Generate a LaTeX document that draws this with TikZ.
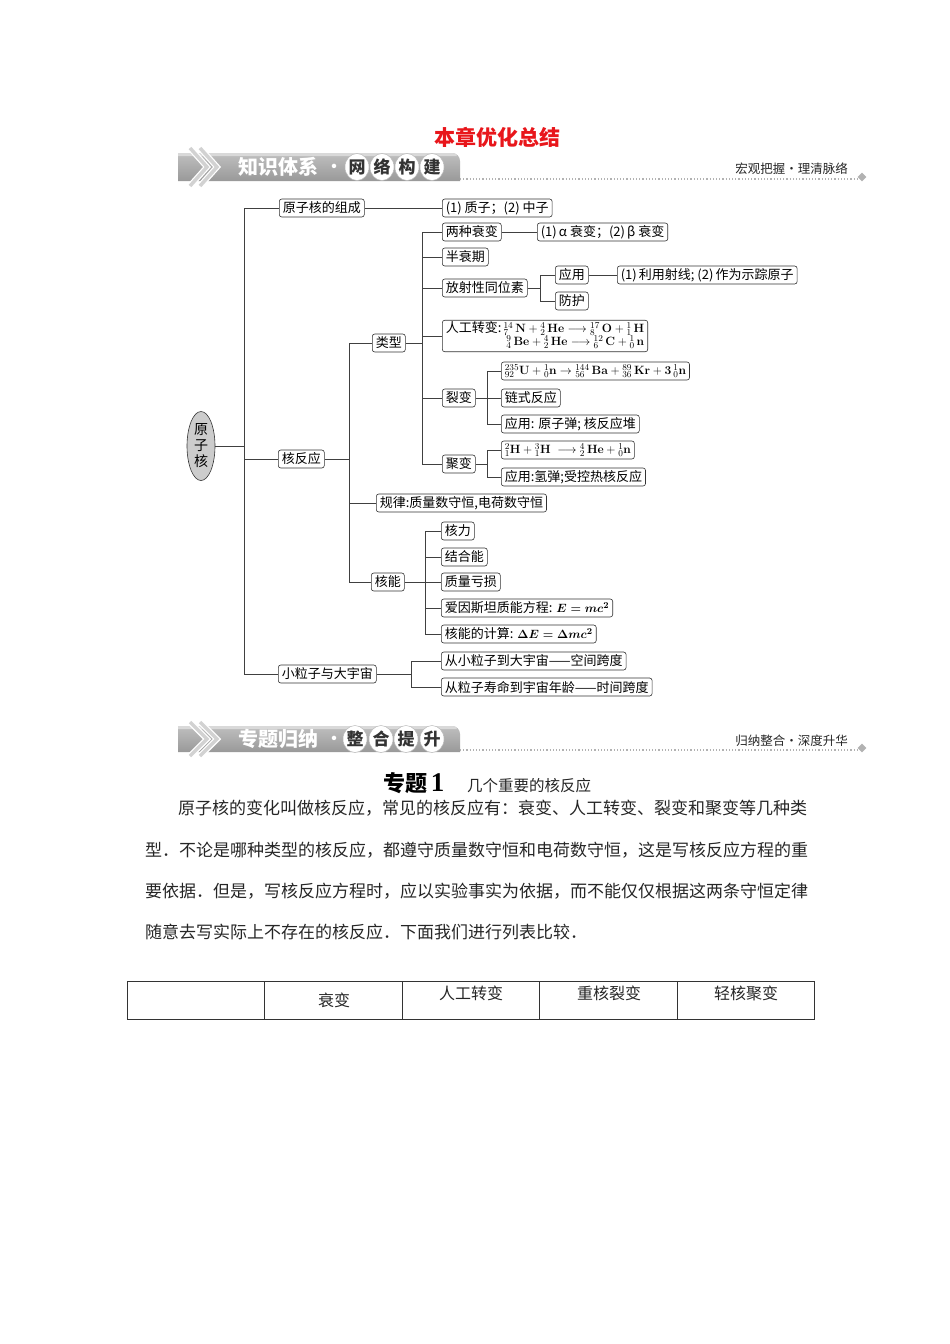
\documentclass[tikz,border=0pt]{standalone}
\usepackage[no-math]{fontspec}
\setmainfont{Noto Sans CJK SC}
\newfontfamily\serifnum{Liberation Serif}
\usetikzlibrary{shapes.geometric}
\definecolor{titlered}{HTML}{E8161B}
\newcommand{\nuc}[3]{{}^{#1}_{#2}\mathbf{#3}}
\begin{document}
\begin{tikzpicture}[x=1pt,y=-1pt,
  box/.style={draw=black!80, rounded corners=2.5pt, line width=0.6pt, inner xsep=3.5pt, inner ysep=2pt, minimum height=18pt, anchor=west, font=\fontsize{13}{15}\selectfont},
  link/.style={draw=black!75, line width=0.7pt},
  circchar/.style={ellipse, fill=white, draw=gray!55, line width=0.5pt, minimum width=23pt, minimum height=27pt, inner sep=0pt, text=black!80, font=\bfseries\fontsize{17}{17}\selectfont},
  bannertext/.style={anchor=west, text=white, inner sep=0pt, font=\bfseries\fontsize{20}{20}\selectfont},
  sidetext/.style={anchor=east, inner sep=0pt, text=black!85, font=\fontsize{12.5}{12.5}\selectfont},
  para/.style={anchor=west, inner sep=0pt, text=black!85, font=\fontsize{17}{17}\selectfont},
  cell/.style={inner sep=0pt, text=black!85, font=\fontsize{16}{16}\selectfont}]
\useasboundingbox (0,0) rectangle (950,1344);

% ---------- title ----------
\node[text=titlered, font=\bfseries\fontsize{21}{21}\selectfont] (title) at (497,137) {本章优化总结};

% ---------- banner 1 ----------
\shade[top color=gray!50, bottom color=gray!80] (178,153) -- (452,153) to[out=0,in=90] (460,161) -- (460,181) -- (178,181) -- cycle;
\fill[gray!30] (178,153) -- (452,153) to[out=0,in=90] (457,156) -- (178,156) -- cycle;
\foreach \dx in {0,10} {
  \draw[white, line width=6pt, line join=miter] (190+\dx,148) -- (207+\dx,167) -- (190+\dx,186);
  \draw[gray!35, line width=3.5pt, line join=miter] (190+\dx,148) -- (207+\dx,167) -- (190+\dx,186);
}
\node[bannertext] (b1t) at (238,167) {知识体系};
\node[text=white, font=\bfseries\fontsize{16}{16}\selectfont] (b1dot) at (334,168) {·};
\node[circchar] (b1c1) at (357,167) {网};
\node[circchar] (b1c2) at (382,167) {络};
\node[circchar] (b1c3) at (407,167) {构};
\node[circchar] (b1c4) at (432,167) {建};
\draw[gray!60, dotted, line width=1.2pt] (460,179) -- (857,179);
\node[diamond, fill=gray!60, minimum size=9pt, inner sep=0pt] (b1d) at (862,177) {};
\node[sidetext] (b1s) at (848,169) {宏观把握·理清脉络};

% ---------- tree ----------
\node[ellipse, draw=black!80, line width=0.6pt, fill=gray!40, minimum width=28pt, minimum height=69pt, inner sep=0pt, align=center, font=\fontsize{14}{16}\selectfont] (root) at (201,446) {原\\子\\核};

\node[box] (zc)  at (279,208) {原子核的组成};
\node[box] (zc1) at (442,208) {(1) 质子；(2) 中子};
\node[box] (hfy) at (278,459) {核反应};
\node[box] (xlz) at (278,674) {小粒子与大宇宙};

\node[box] (lx) at (372,343) {类型};
\node[box] (gl) at (376,503) {规律:质量数守恒,电荷数守恒};
\node[box] (hn) at (371,582) {核能};

\node[box] (lz)  at (442,232) {两种衰变};
\node[box] (lz1) at (537,232) {(1)\,α 衰变；(2)\,β 衰变};
\node[box] (bsq) at (442,257) {半衰期};
\node[box] (fs)  at (442,288) {放射性同位素};
\node[box] (yy)  at (555,275) {应用};
\node[box] (fh)  at (555,301) {防护};
\node[box] (yy1) at (617,275) {(1)\,利用射线; (2)\,作为示踪原子};
\node[box, inner ysep=1.5pt] (rg) at (442,336) {\begin{tabular}{@{}l@{\,}r@{}}人工转变: & $\nuc{14}{7}{\,N}+\nuc{4}{2}{\,He}\longrightarrow\nuc{17}{8}{\,O}+\nuc{1}{1}{\,H}$\\[-2pt]
 & $\nuc{9}{4}{\,Be}+\nuc{4}{2}{\,He}\longrightarrow\nuc{12}{6}{\,C}+\nuc{1}{0}{\,n}$\end{tabular}};
\node[box] (lb)  at (442,398) {裂变};
\node[box] (lb1) at (501,371) {$\nuc{235}{92}{U}+\nuc{1}{0}{n}\to\nuc{144}{56}{\,Ba}+\nuc{89}{36}{\,Kr}+\mathbf{3}\,\nuc{1}{0}{n}$};
\node[box] (lb2) at (501,398) {链式反应};
\node[box] (lb3) at (501,424) {应用: 原子弹; 核反应堆};
\node[box] (jb)  at (442,464) {聚变};
\node[box] (jb1) at (501,450) {$\nuc{2}{1}{H}+\nuc{3}{1}{H}\;\longrightarrow\nuc{4}{2}{\,He}+\nuc{1}{0}{n}$};
\node[box] (jb2) at (501,477) {应用:氢弹;受控热核反应};

\node[box] (hl)   at (441,531) {核力};
\node[box] (jhn)  at (441,557) {结合能};
\node[box] (zlks) at (441,582) {质量亏损};
\node[box] (ays)  at (441,608) {爱因斯坦质能方程: {\boldmath$E=mc^2$}};
\node[box] (hnjs) at (441,634) {核能的计算: {\boldmath$\Delta E=\Delta mc^2$}};
\node[box] (kj)   at (441,661) {从小粒子到大宇宙——空间跨度};
\node[box] (sj)   at (441,687) {从粒子寿命到宇宙年龄——时间跨度};

% spine x positions
\coordinate (s0) at (244,0);
\coordinate (s1) at (349,0);
\coordinate (s2) at (422,0);
\coordinate (s3) at (540,0);
\coordinate (s4) at (487,0);
\coordinate (s5) at (425,0);
\coordinate (s6) at (411,0);

% root level
\draw[link] (root.east) -- (root.east -| s0);
\draw[link] (zc.west -| s0) -- (xlz.west -| s0);
\foreach \c in {zc,hfy,xlz} \draw[link] (\c.west -| s0) -- (\c.west);
\draw[link] (zc.east) -- (zc1.west);

% 核反应
\draw[link] (hfy.east) -- (hfy.east -| s1);
\draw[link] (lx.west -| s1) -- (hn.west -| s1);
\foreach \c in {lx,gl,hn} \draw[link] (\c.west -| s1) -- (\c.west);

% 类型
\draw[link] (lx.east) -- (lx.east -| s2);
\draw[link] (lz.west -| s2) -- (jb.west -| s2);
\foreach \c in {lz,bsq,fs,rg,lb,jb} \draw[link] (\c.west -| s2) -- (\c.west);
\draw[link] (lz.east) -- (lz1.west);

% 放射性同位素
\draw[link] (fs.east) -- (fs.east -| s3);
\draw[link] (yy.west -| s3) -- (fh.west -| s3);
\foreach \c in {yy,fh} \draw[link] (\c.west -| s3) -- (\c.west);
\draw[link] (yy.east) -- (yy1.west);

% 裂变
\draw[link] (lb.east) -- (lb.east -| s4);
\draw[link] (lb1.west -| s4) -- (lb3.west -| s4);
\foreach \c in {lb1,lb2,lb3} \draw[link] (\c.west -| s4) -- (\c.west);

% 聚变
\draw[link] (jb.east) -- (jb.east -| s4);
\draw[link] (jb1.west -| s4) -- (jb2.west -| s4);
\foreach \c in {jb1,jb2} \draw[link] (\c.west -| s4) -- (\c.west);

% 核能
\draw[link] (hn.east) -- (hn.east -| s5);
\draw[link] (hl.west -| s5) -- (hnjs.west -| s5);
\foreach \c in {hl,jhn,zlks,ays,hnjs} \draw[link] (\c.west -| s5) -- (\c.west);

% 小粒子与大宇宙
\draw[link] (xlz.east) -- (xlz.east -| s6);
\draw[link] (kj.west -| s6) -- (sj.west -| s6);
\foreach \c in {kj,sj} \draw[link] (\c.west -| s6) -- (\c.west);

% ---------- banner 2 ----------
\shade[top color=gray!50, bottom color=gray!80] (178,726) -- (452,726) to[out=0,in=90] (460,734) -- (460,752) -- (178,752) -- cycle;
\fill[gray!30] (178,726) -- (452,726) to[out=0,in=90] (457,729) -- (178,729) -- cycle;
\foreach \dx in {0,10} {
  \draw[white, line width=6pt, line join=miter] (190+\dx,722) -- (207+\dx,739) -- (190+\dx,756);
  \draw[gray!35, line width=3.5pt, line join=miter] (190+\dx,722) -- (207+\dx,739) -- (190+\dx,756);
}
\node[bannertext] (b2t) at (238,739) {专题归纳};
\node[text=white, font=\bfseries\fontsize{16}{16}\selectfont] (b2dot) at (334,740) {·};
\node[circchar] (b2c1) at (355,739) {整};
\node[circchar] (b2c2) at (381,739) {合};
\node[circchar] (b2c3) at (406,739) {提};
\node[circchar] (b2c4) at (432,739) {升};
\draw[gray!60, dotted, line width=1.2pt] (460,750) -- (857,750);
\node[diamond, fill=gray!60, minimum size=9pt, inner sep=0pt] (b2d) at (862,748) {};
\node[sidetext] (b2s) at (848,741) {归纳整合·深度升华};

% ---------- text ----------
\node[anchor=west, inner sep=0pt, font=\bfseries\fontsize{22}{22}\selectfont] (zt) at (383,783) {专题\,{\serifnum\bfseries\fontsize{27}{27}\selectfont 1}};
\node[anchor=west, inner sep=0pt, text=black!85, font=\fontsize{15.5}{15.5}\selectfont] (zt2) at (467,786) {几个重要的核反应};
\node[para] (p1) at (178,808) {原子核的变化叫做核反应，常见的核反应有：衰变、人工转变、裂变和聚变等几种类};
\node[para] (p2) at (145,850) {型．不论是哪种类型的核反应，都遵守质量数守恒和电荷数守恒，这是写核反应方程的重};
\node[para] (p3) at (145,891) {要依据．但是，写核反应方程时，应以实验事实为依据，而不能仅仅根据这两条守恒定律};
\node[para] (p4) at (145,932) {随意去写实际上不存在的核反应．下面我们进行列表比较．};

% ---------- table ----------
\draw[black!80, line width=0.7pt] (127,981) rectangle (814,1019);
\foreach \x in {264,402,539,677} \draw[black!80, line width=0.7pt] (\x,981) -- (\x,1019);
\node[cell] (t1) at (334,1000) {衰变};
\node[cell] (t2) at (471,993) {人工转变};
\node[cell] (t3) at (609,993) {重核裂变};
\node[cell] (t4) at (746,993) {轻核聚变};
\end{tikzpicture}
\end{document}
